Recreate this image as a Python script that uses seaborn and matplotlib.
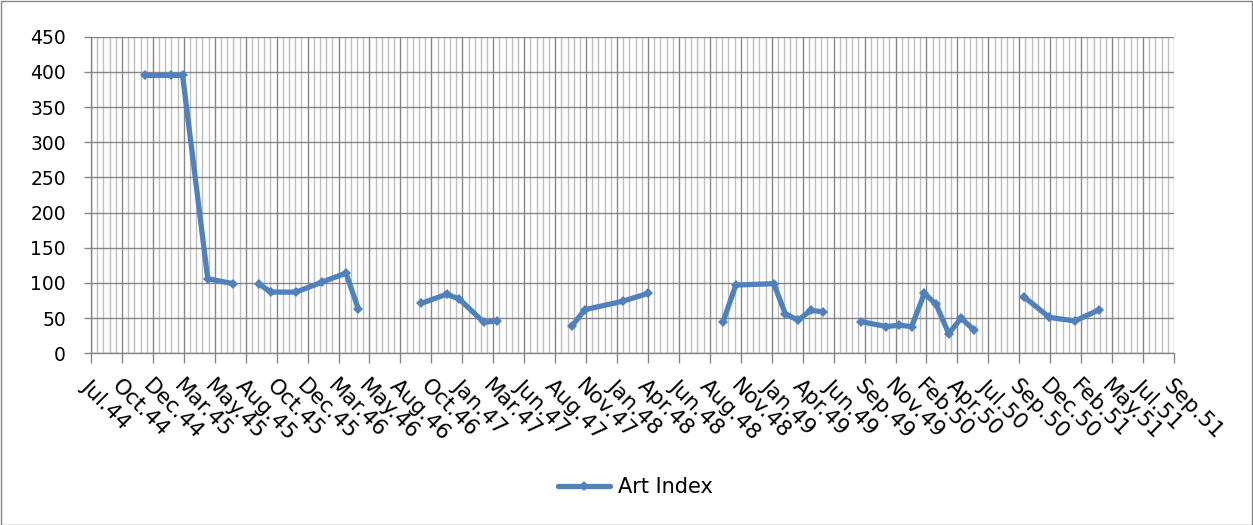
import numpy as np
import pandas as pd
import matplotlib
matplotlib.use("Agg")
import matplotlib.pyplot as plt
import matplotlib.dates as mdates
from matplotlib.lines import Line2D
from matplotlib.patches import Rectangle
import seaborn as sns

# monthly observations, None = empty cell (line break)
months = ["1944-12", "1945-02", "1945-03", "1945-05", "1945-07", "1945-08",
          "1945-09", "1945-10", "1945-12", "1946-02", "1946-04", "1946-05", "1946-07",
          "1946-10", "1946-12", "1947-01", "1947-03", "1947-04", "1947-07",
          "1947-10", "1947-11", "1948-02", "1948-04", "1948-07",
          "1948-10", "1948-11", "1949-02", "1949-03", "1949-04", "1949-05", "1949-06", "1949-07",
          "1949-09", "1949-11", "1949-12", "1950-01", "1950-02", "1950-03", "1950-04",
          "1950-05", "1950-06", "1950-08",
          "1950-10", "1950-12", "1951-02", "1951-04"]
art_index = [395, 395, 395, 106, 99, None,
             99, 87, 87, 101, 114, 63, None,
             71, 84, 77, 44, 46, None,
             39, 62, 74, 85, None,
             45, 97, 99, 56, 47, 61, 59, None,
             45, 38, 40, 38, 85, 70, 28,
             50, 33, None,
             80, 51, 46, 62]
series_name = "Art Index"

y_ticks = list(range(0, 451, 50))

# date axis like Excel: base unit days, major unit 75, minor unit 15
axis_start = pd.Timestamp("1944-07-22")
major_days = 75
minor_days = 15
n_major = 35

df = pd.DataFrame({"date": pd.to_datetime(months), "value": pd.array(art_index, dtype="Float64")})
df["value"] = df["value"].astype(float)
df["segment"] = df["value"].isna().cumsum()
df = df.dropna()

sns.set_style("white")
plt.rcParams["font.family"] = ["DejaVu Sans"]
plt.rcParams["text.color"] = "black"
plt.rcParams["xtick.labelcolor"] = "black"
plt.rcParams["ytick.labelcolor"] = "black"

blue = "#4F81BD"
fig = plt.figure(figsize=(12.53, 5.25), dpi=100)
ax = fig.add_axes([91 / 1253, 1 - 353.3 / 525, (1174 - 91) / 1253, (353.3 - 36.7) / 525])

sns.lineplot(data=df, x="date", y="value", units="segment", estimator=None,
             color=blue, lw=3.8, marker="D", markersize=5.5, markeredgewidth=0,
             ax=ax, legend=False, zorder=3)

x0 = mdates.date2num(axis_start)
x1 = x0 + n_major * major_days
ax.set_xlim(x0, x1)
ax.set_ylim(0, 450)
ax.set_xticks([x0 + k * major_days for k in range(n_major + 1)])
ax.set_xticks(np.arange(x0, x1 + 0.1, minor_days), minor=True)
ax.xaxis.set_major_formatter(mdates.DateFormatter("%b.%y"))
ax.set_yticks(y_ticks)

ax.grid(which="major", axis="both", color="#868686", lw=1.0, zorder=1)
ax.grid(which="minor", axis="x", color="#bfbfbf", lw=1.0, zorder=0)
ax.set_xlabel("")
ax.set_ylabel("")
for s in ["top", "right"]:
    ax.spines[s].set_visible(False)
for s in ["left", "bottom"]:
    ax.spines[s].set_color("#868686")
    ax.spines[s].set_linewidth(1.0)

ax.tick_params(axis="x", which="major", direction="out", length=7, width=1, color="#868686",
               labelsize=15.5, labelcolor="black", pad=9, bottom=True)
ax.tick_params(axis="x", which="minor", length=0)
ax.tick_params(axis="y", direction="out", length=5, width=1, color="#868686",
               labelsize=13.5, labelcolor="black", pad=13, left=True)
for lab in ax.get_xticklabels():
    lab.set_rotation(-45)
    lab.set_ha("left")
    lab.set_va("top")
    lab.set_rotation_mode("anchor")

handle = Line2D([], [], color=blue, lw=3.8, marker="D", markersize=5.5, markeredgewidth=0)
fig.legend([handle], [series_name], loc="center", bbox_to_anchor=(0.507, 0.072),
           frameon=False, fontsize=15, handlelength=2.5, handletextpad=0.35,
           labelcolor="black")

fig.patches.append(Rectangle((0.5 / 1253, 0.5 / 525), 1 - 1.5 / 1253, 1 - 1.5 / 525,
                             transform=fig.transFigure, fill=False, ec="#868686", lw=1.0))

fig.savefig("out.png", dpi=100)
